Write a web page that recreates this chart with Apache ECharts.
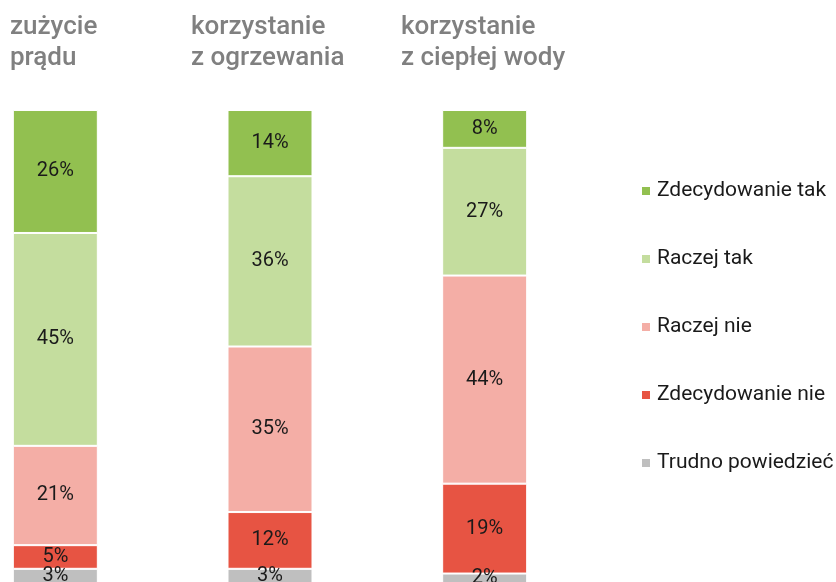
<!DOCTYPE html>
<html>
<head>
<meta charset="utf-8">
<script src="https://cdn.jsdelivr.net/npm/echarts@6/dist/echarts.min.js"></script>
<style>
  html, body { margin: 0; padding: 0; background: #ffffff; }
  #chart { width: 836px; height: 582px; }
</style>
</head>
<body>
<div id="chart"></div>
<script>
// Categories (column headers) and answer shares in %, bottom to top of each bar
const categories = ["zużycie\nprądu", "korzystanie\nz ogrzewania", "korzystanie\nz ciepłej wody"];
const trudno = [3, 3, 2];
const zdecNie = [5, 12, 19];
const raczejNie = [21, 35, 44];
const raczejTak = [45, 36, 27];
const zdecTak = [26, 14, 8];

const FONT = "Roboto, sans-serif";
const INK = "#1a1a1a";
const TITLE = "#808080";

const seriesDefs = [
  { name: "Trudno powiedzieć", data: trudno, color: "#bfbfbf" },
  { name: "Zdecydowanie nie", data: zdecNie, color: "#e75443" },
  { name: "Raczej nie", data: raczejNie, color: "#f4aea6" },
  { name: "Raczej tak", data: raczejTak, color: "#c4dd9e" },
  { name: "Zdecydowanie tak", data: zdecTak, color: "#92c050" },
];

const titleLeft = [5, 186, 396];

const chart = echarts.init(document.getElementById("chart"));
chart.setOption({
  animation: false,
  textStyle: { fontFamily: FONT },
  title: categories.map((c, i) => ({
    text: c,
    left: titleLeft[i],
    top: 7,
    textStyle: { color: TITLE, fontSize: 26, fontWeight: 500, lineHeight: 31, fontFamily: FONT },
  })),
  legend: {
    orient: "vertical",
    left: 635,
    top: 174,
    itemWidth: 10,
    itemHeight: 10,
    itemGap: 44,
    icon: "rect",
    data: ["Zdecydowanie tak", "Raczej tak", "Raczej nie", "Zdecydowanie nie", "Trudno powiedzieć"],
    textStyle: { color: INK, fontSize: 21, lineHeight: 24, fontFamily: FONT, padding: [0, 0, 0, 1] },
  },
  grid: { left: -52, width: 644, top: 110, bottom: -1, outerBoundsMode: "none" },
  xAxis: {
    type: "category",
    data: categories,
    show: false,
  },
  yAxis: { type: "value", min: 0, max: 100, show: false },
  series: seriesDefs.map((s) => ({
    name: s.name,
    type: "bar",
    stack: "total",
    data: s.data,
    barWidth: 85,
    itemStyle: { color: s.color, borderColor: "#ffffff", borderWidth: 1 },
    label: {
      show: true,
      position: "inside",
      formatter: "{c}%",
      color: INK,
      fontSize: 20,
      fontFamily: FONT,
    },
  })),
});
</script>
</body>
</html>
